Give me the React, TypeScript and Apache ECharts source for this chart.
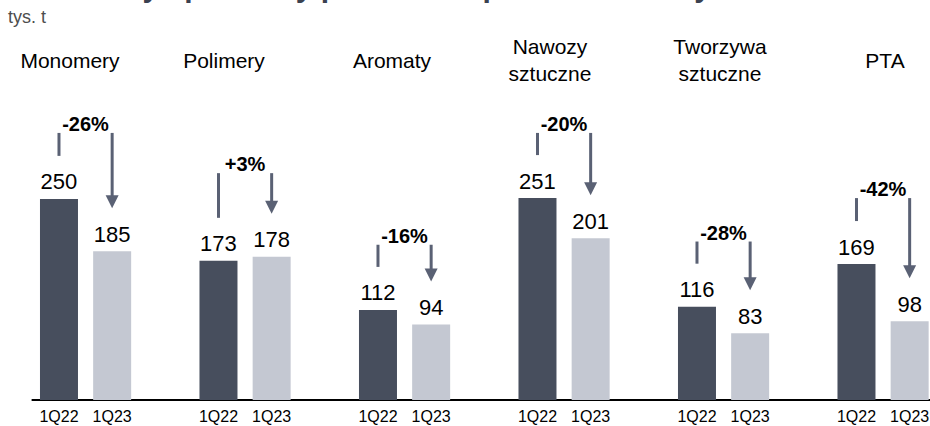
import React, { useEffect, useRef } from "react";
import * as echarts from "echarts";

const groups = ["Monomery", "Polimery", "Aromaty", "Nawozy\nsztuczne", "Tworzywa\nsztuczne", "PTA"];
const quarters = ["1Q22", "1Q23"];
const values1Q22 = [250, 173, 112, 251, 116, 169];
const values1Q23 = [185, 178, 94, 201, 83, 98];
const changes = ["-26%", "+3%", "-16%", "-20%", "-28%", "-42%"];
// level (in tys. t) of the top of each change bracket
const bracketLevels = [332, 282, 193, 332, 197, 251];
const title = "Wolumeny sprzedaży produktów petrochemicznych";
const unit = "tys. t";

// layout only
const groupLabelX = [70, 224, 392, 550, 720, 885];

const FONT = "'Liberation Sans Narrow', 'Arial Narrow', 'Liberation Sans', Arial, sans-serif";
const DARK = "#474e5d";
const LIGHT = "#c4c8d2";
const ARROW = "#5a6174";

export default function App() {
  const ref = useRef<HTMLDivElement>(null);
  useEffect(() => {
    document.body.style.margin = "0";
    document.body.style.overflow = "hidden";
    document.documentElement.style.overflow = "hidden";
    const chart = echarts.init(ref.current!, null, { renderer: "svg" });

    const slots: string[] = [];
    const s1: (number | string)[] = [];
    const s2: (number | string)[] = [];
    groups.forEach((_, i) => {
      slots.push(quarters[0], quarters[1], "");
      s1.push(values1Q22[i], "-", "-");
      s2.push("-", values1Q23[i], "-");
    });

    const annData = groups.map((_, i) => [3 * i, 3 * i + 1, values1Q22[i], values1Q23[i], bracketLevels[i]]);

    const labelStyle = {
      show: true,
      position: "top" as const,
      distance: 6,
      fontFamily: FONT,
      fontSize: 22,
      color: "#000",
    };

    chart.setOption({
      animation: false,
      grid: { left: 32.4, width: 957, top: 38, bottom: 26 },
      xAxis: {
        type: "category",
        data: slots,
        axisTick: { show: false },
        axisLine: { lineStyle: { color: "#000", width: 2 } },
        axisLabel: { interval: 0, margin: 8, fontFamily: FONT, fontSize: 16, color: "#000" },
      },
      yAxis: { type: "value", min: 0, max: 450, show: false, splitLine: { show: false } },
      series: [
        {
          name: quarters[0],
          type: "bar",
          data: s1,
          barWidth: 38,
          barGap: "-100%",
          itemStyle: { color: DARK },
          label: labelStyle,
        },
        {
          name: quarters[1],
          type: "bar",
          data: s2,
          barWidth: 38,
          itemStyle: { color: LIGHT },
          label: labelStyle,
        },
        {
          type: "custom",
          clip: false,
          data: annData,
          renderItem: (params: any, api: any) => {
            const d0 = api.coord([api.value(0), api.value(2)]);
            const d1 = api.coord([api.value(1), api.value(3)]);
            const lv = api.coord([api.value(0), api.value(4)]);
            const gap = 43;
            const head = 13;
            const topY = lv[1];
            const leftBottom = d0[1] - gap;
            const tipY = d1[1] - gap;
            return {
              type: "group",
              children: [
                {
                  type: "line",
                  shape: { x1: d0[0], y1: topY, x2: d0[0], y2: leftBottom },
                  style: { stroke: ARROW, lineWidth: 3 },
                },
                {
                  type: "line",
                  shape: { x1: d1[0], y1: topY, x2: d1[0], y2: tipY - head + 1 },
                  style: { stroke: ARROW, lineWidth: 3 },
                },
                {
                  type: "polygon",
                  shape: {
                    points: [
                      [d1[0] - 6.5, tipY - head],
                      [d1[0] + 6.5, tipY - head],
                      [d1[0], tipY],
                    ],
                  },
                  style: { fill: ARROW },
                },
                {
                  type: "text",
                  style: {
                    x: (d0[0] + d1[0]) / 2,
                    y: topY + 1,
                    text: changes[params.dataIndex],
                    align: "center",
                    verticalAlign: "bottom",
                    fontFamily: FONT,
                    fontWeight: "bold",
                    fontSize: 20,
                    fill: "#000",
                  },
                },
              ],
            };
          },
        },
      ],
      graphic: [
        {
          type: "text",
          left: 8,
          top: -29,
          style: { text: title, fontFamily: FONT, fontWeight: "bold", fontSize: 30, fill: "#3a4150" },
        },
        {
          type: "text",
          left: 8,
          top: 8,
          style: { text: unit, fontFamily: FONT, fontSize: 18, fill: "#4d4d4d" },
        },
        ...groups.map((g, i) => ({
          type: "text",
          x: groupLabelX[i],
          y: 60,
          style: {
            text: g,
            align: "center",
            verticalAlign: "middle",
            fontFamily: FONT,
            fontSize: 21,
            lineHeight: 27,
            fill: "#000",
          },
        })),
      ],
    });
    return () => chart.dispose();
  }, []);
  return <div ref={ref} style={{ width: 990, height: 426 }} />;
}
